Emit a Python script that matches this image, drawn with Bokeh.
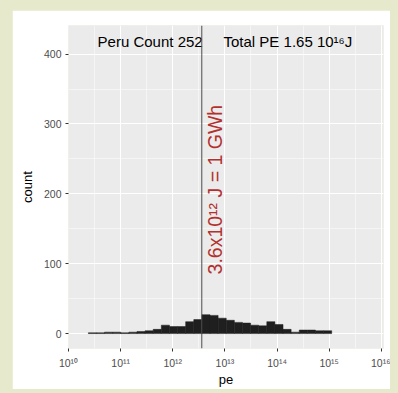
from bokeh.plotting import figure
from bokeh.models import Range1d, FixedTicker, CustomJSTickFormatter, Span, ColumnDataSource
from bokeh.core.properties import value
from bokeh.embed import file_html
from bokeh.resources import INLINE

# ---- data ----
bin_start_exp = 10.38          # log10 of left edge of first bin
bin_width_exp = 0.1556         # bin width in decades
counts = [1, 1, 2, 2, 1, 2, 3, 4, 6, 12,
          10, 10, 17, 20, 27, 26, 22, 19, 16, 15,
          12, 11, 17, 13, 6, 2, 5, 5, 4, 4]
x_tick_exps = [10, 11, 12, 13, 14, 15, 16]
y_ticks = [0, 100, 200, 300, 400]
y_minor = [50, 150, 250, 350]
gwh_joules = 3.6e12
title_text = "Peru Count 252\u00a0\u00a0\u00a0\u00a0\u00a0Total PE 1.65 10\u00b9\u2076J"
gwh_text = "3.6x10\u00b9\u00b2 J = 1 GWh"
title_x = 1e13
title_y = 418
gwh_y = 206

n = len(counts)
lefts = [10 ** (bin_start_exp + i * bin_width_exp) for i in range(n)]
rights = [10 ** (bin_start_exp + (i + 1) * bin_width_exp) for i in range(n)]
src = ColumnDataSource(dict(left=lefts, right=rights, top=counts, bottom=[0] * n))

FONT = "Liberation Sans"

p = figure(width=378, height=379, x_axis_type="log",
           x_range=Range1d(1e10, 1.1e16), y_range=Range1d(-21.4, 441),
           output_backend="svg", toolbar_location=None,
           min_border_left=56, min_border_right=7, min_border_top=15, min_border_bottom=36)

p.background_fill_color = "#ebebeb"
p.border_fill_color = "white"
p.outline_line_color = None

p.quad(left="left", right="right", top="top", bottom="bottom", source=src,
       fill_color="#1f1f1f", line_color="#1f1f1f", line_width=0.5)

p.add_layout(Span(location=gwh_joules, dimension="height", line_color="#4d4d4d", line_width=1))

p.text(x=[title_x], y=[title_y], text=[title_text], text_font=value(FONT),
       text_font_size="15px", text_color="black", text_align="center", text_baseline="middle")
p.text(x=[gwh_joules * 1.12], y=[gwh_y], text=[gwh_text], text_font=value(FONT),
       text_font_size="19.5px", text_color="#b3302e", text_align="center", text_baseline="top",
       angle=1.5708)

# axes
xt = [10 ** e for e in x_tick_exps]
xminor = [10 ** (e + 0.5) for e in x_tick_exps]
p.xaxis.ticker = FixedTicker(ticks=xt, minor_ticks=xminor)
p.xaxis.formatter = CustomJSTickFormatter(code="""
const s = {"0":"\u2070","1":"\u00b9","2":"\u00b2","3":"\u00b3","4":"\u2074","5":"\u2075","6":"\u2076","7":"\u2077","8":"\u2078","9":"\u2079","-":"\u207b"};
const e = Math.round(Math.log10(tick)).toString();
return "10" + e.split("").map(c => s[c]).join("");
""")
p.yaxis.ticker = FixedTicker(ticks=y_ticks, minor_ticks=y_minor)

for ax in (p.xaxis, p.yaxis):
    ax.axis_line_color = None
    ax.major_tick_line_color = "#333333"
    ax.major_tick_out = 3
    ax.major_tick_in = 0
    ax.minor_tick_line_color = None
    ax.major_label_text_font = FONT
    ax.major_label_text_font_size = "10.5px"
    ax.major_label_text_color = "#4d4d4d"
    ax.axis_label_text_font = FONT
    ax.axis_label_text_font_size = "13px"
    ax.axis_label_text_font_style = "normal"
    ax.axis_label_text_color = "black"
    ax.major_label_standoff = 3

p.xaxis.major_label_standoff = 4
p.xaxis.axis_label = "pe"
p.yaxis.axis_label = "count"
p.xaxis.axis_label_standoff = 0
p.yaxis.axis_label_standoff = 6

for g in (p.xgrid, p.ygrid):
    g.grid_line_color = "white"
    g.grid_line_width = 1
    g.minor_grid_line_color = "white"
    g.minor_grid_line_width = 0.5

html = file_html(p, INLINE)
html = html.replace("</head>",
                    "<style>html,body{background:#e6e9cb;}body{padding:10px 0 0 12px !important;}</style></head>", 1)
open("out.html", "w").write(html)
